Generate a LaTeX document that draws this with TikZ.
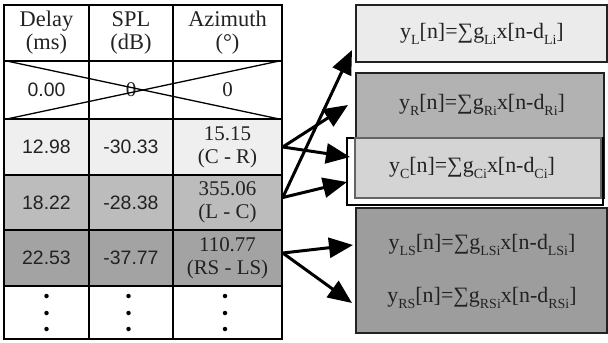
\documentclass[tikz,border=0pt]{standalone}
\usepackage{fontspec}
\setmainfont{Liberation Serif}
\newfontfamily\numfont{Liberation Sans}
\usetikzlibrary{arrows.meta}
\newcommand\sbs[1]{\raisebox{-0.28em}{\fontsize{14}{14}\selectfont #1}}
\definecolor{rowA}{HTML}{EFEFEF}
\definecolor{rowB}{HTML}{BCBCBC}
\definecolor{rowC}{HTML}{A3A3A3}
\definecolor{boxL}{HTML}{EBEBEB}
\definecolor{boxR}{HTML}{B2B2B2}
\definecolor{boxC}{HTML}{D4D4D4}
\definecolor{boxS}{HTML}{9D9D9D}
\definecolor{ink}{HTML}{222222}
\begin{document}
\begin{tikzpicture}[x=1bp,y=-1bp,
  cell/.style={draw=black,line width=1.5bp,inner sep=0pt,align=center,text=ink},
  c1/.style={cell,minimum width=85bp},
  c2/.style={cell,minimum width=84bp},
  c3/.style={cell,minimum width=109bp},
  head/.style={font=\fontsize{22.5}{23}\selectfont},
  serif/.style={font=\fontsize{21}{23}\selectfont},
  sans/.style={font=\numfont\fontsize{19.5}{23}\selectfont},
  box/.style={draw=ink,line width=1.5bp,inner sep=0pt},
  formula/.style={font=\fontsize{22}{24}\selectfont,text=ink,inner sep=0pt},
  arr/.style={line width=3bp,-{Triangle[length=24bp,width=20bp]}},
  vdot/.style={fill=black,circle,inner sep=0pt,minimum size=4.5bp}]
\useasboundingbox (0,0) rectangle (608,342);
% header row
\node[c1,head,minimum height=56bp] (h1) at (46.5,33) {Delay\\(ms)};
\node[c2,head,minimum height=56bp] (h2) at (131,33) {SPL\\(dB)};
\node[c3,head,minimum height=56bp] (h3) at (227.5,33) {Azimuth\\(°)};
% row 1 (crossed)
\node[c1,sans,minimum height=58bp] (r1c1) at (46.5,90) {0.00};
\node[c2,serif,minimum height=58bp] (r1c2) at (131,90) {0};
\node[c3,serif,minimum height=58bp] (r1c3) at (227.5,90) {0};
\draw[line width=1.3bp] (r1c1.north west) -- (r1c3.south east);
\draw[line width=1.3bp] (r1c1.south west) -- (r1c3.north east);
% row 2
\node[c1,sans,fill=rowA,minimum height=56bp] (r2c1) at (46.5,147) {12.98};
\node[c2,sans,fill=rowA,minimum height=56bp] (r2c2) at (131,147) {-30.33};
\node[c3,serif,fill=rowA,minimum height=56bp] (r2c3) at (227.5,147) {15.15\\(C - R)};
% row 3
\node[c1,sans,fill=rowB,minimum height=55bp] (r3c1) at (46.5,202.5) {18.22};
\node[c2,sans,fill=rowB,minimum height=55bp] (r3c2) at (131,202.5) {-28.38};
\node[c3,serif,fill=rowB,minimum height=55bp] (r3c3) at (227.5,202.5) {355.06\\(L - C)};
% row 4
\node[c1,sans,fill=rowC,minimum height=56bp] (r4c1) at (46.5,258) {22.53};
\node[c2,sans,fill=rowC,minimum height=56bp] (r4c2) at (131,258) {-37.77};
\node[c3,serif,fill=rowC,minimum height=56bp] (r4c3) at (227.5,258) {110.77\\(RS - LS)};
% row 5 (dots)
\node[c1,minimum height=53bp] (r5c1) at (46.5,312.5) {};
\node[c2,minimum height=53bp] (r5c2) at (131,312.5) {};
\node[c3,minimum height=53bp] (r5c3) at (227.5,312.5) {};
\foreach \n/\x in {a/46.5,b/128.5,c/225}{
  \node[vdot] (d\n1) at (\x,296) {};
  \node[vdot] (d\n2) at (\x,313) {};
  \node[vdot] (d\n3) at (\x,329) {};
}
% right boxes
\node[box,fill=boxL,minimum width=251bp,minimum height=57bp] (bL) at (481.5,33.5) {};
\node[formula] (fL) at (482,34) {y\sbs{L}[n]=∑g\sbs{Li}x[n-d\sbs{Li}]};
\node[box,fill=boxR,minimum width=248bp,minimum height=125bp] (bR) at (480,135.5) {};
\node[formula] (fR) at (482,105) {y\sbs{R}[n]=∑g\sbs{Ri}x[n-d\sbs{Ri}]};
\node[draw=black,line width=1.2bp,fill=white,inner sep=0pt,minimum width=256bp,minimum height=67bp] (bCo) at (475,171.5) {};
\node[draw=ink!70,line width=1.2bp,fill=boxC,inner sep=0pt,minimum width=246bp,minimum height=60bp] (bCi) at (478,168) {};
\node[formula] (fC) at (472,168) {y\sbs{C}[n]=∑g\sbs{Ci}x[n-d\sbs{Ci}]};
\node[box,fill=boxS,minimum width=251bp,minimum height=125bp] (bS) at (481.5,270.5) {};
\node[formula] (fLS) at (482,245) {y\sbs{LS}[n]=∑g\sbs{LSi}x[n-d\sbs{LSi}]};
\node[formula] (fRS) at (482,298) {y\sbs{RS}[n]=∑g\sbs{RSi}x[n-d\sbs{RSi}]};
% arrow sources and targets
\coordinate (s2) at ([yshift=0bp]r2c3.east);
\coordinate (s3) at ([yshift=5bp]r3c3.east);
\coordinate (s4) at ([yshift=5bp]r4c3.east);
\coordinate (tL) at (352,50);
\coordinate (tR) at (348,105);
\coordinate (tC1) at (350,157);
\coordinate (tC2) at (347,182);
\coordinate (tLS) at (353,245);
\coordinate (tRS) at (352,303);
% arrows
\draw[arr] (s2) -- (tR);
\draw[arr] (s2) -- (tC1);
\draw[arr] (s3) -- (tL);
\draw[arr] (s3) -- (tC2);
\draw[arr] (s4) -- (tLS);
\draw[arr] (s4) -- (tRS);
\end{tikzpicture}
\end{document}
